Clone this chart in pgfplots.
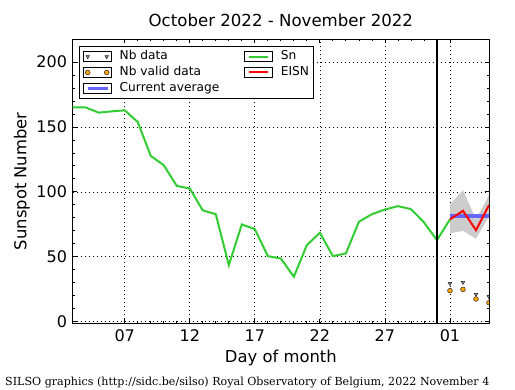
\documentclass[border=0pt]{standalone}
\usepackage{fontspec}
\setmainfont{DejaVu Sans}
\newfontfamily\footerfont{DejaVu Serif}
\usepackage{pgfplots}
\pgfplotsset{compat=1.18}

\definecolor{sngreen}{RGB}{50,205,50}
\definecolor{eisnred}{RGB}{255,0,0}
\definecolor{avgblue}{RGB}{102,102,255}
\definecolor{bandgray}{RGB}{204,204,204}
\definecolor{dotorange}{RGB}{255,165,0}
\definecolor{trigray}{RGB}{140,140,140}

\begin{document}
\begin{tikzpicture}
\path[use as bounding box] (0,0) rectangle (515bp,390bp);
\begin{axis}[
  at={(72.7bp,66.7bp)}, anchor=south west,
  scale only axis, width=416.3bp, height=284bp,
  xmin=3, xmax=35, ymin=-1.23, ymax=217.5,
  axis line style={line width=1bp, black},
  tick style={line width=0.8bp, black},
  tick align=inside,
  major tick length=4bp, minor tick length=2bp,
  xtick={7,12,17,22,27,32}, xticklabels={07,12,17,22,27,01},
  minor x tick num=4,
  ytick={0,50,100,150,200}, minor y tick num=4,
  grid=major,
  major grid style={black, line width=0.7bp, dash pattern=on 1bp off 3bp},
  /pgf/number format/assume math mode=true,
  tick label style={font=\fontsize{16bp}{19bp}\selectfont},
  yticklabel style={inner sep=0pt, xshift=-5.5bp},
  xticklabel style={inner sep=0pt, yshift=-6bp},
  title={October 2022 - November 2022},
  title style={at={(axis description cs:0.5,1.0257)}, anchor=base, inner sep=0pt, font=\fontsize{16.6bp}{20bp}\selectfont},
  xlabel={Day of month},
  xlabel style={at={(axis description cs:0.5,-0.1387)}, anchor=base, inner sep=0pt, font=\fontsize{16.4bp}{20bp}\selectfont},
  ylabel={Sunspot Number},
  ylabel style={at={(axis description cs:-0.111,0.5)}, anchor=base, inner sep=0pt, font=\fontsize{16.4bp}{20bp}\selectfont},
  clip marker paths=true,
  legend columns=2, legend cell align=left,
  legend style={at={(axis description cs:0,1)}, anchor=north west, xshift=6bp, yshift=-6.4bp,
    draw=black, line width=1bp, fill=white, inner xsep=4bp, inner ysep=4.5bp,
    font=\fontsize{12.2bp}{14bp}\selectfont,
    nodes={inner sep=0pt, text height=9bp, text depth=3bp},
    row sep=3.8bp,
    /tikz/every odd column/.append style={column sep=7.5bp},
    /tikz/every even column/.append style={column sep=25bp}},
]
% uncertainty band of EISN
\addplot[fill=bandgray, draw=none, forget plot] coordinates {
  (32,90.5) (33,101.3) (34,78.8) (35,97.5)
  (35,81) (34,64) (33,70) (32,68)} -- cycle;
% Sn
\addplot[sngreen, line width=2bp, forget plot] coordinates {
  (3,165) (4,165) (5,161) (6,162) (7,162.8) (8,153.8) (9,127.7) (10,120.5)
  (11,104.6) (12,102.6) (13,85.7) (14,82.8) (15,43.6) (16,74.9) (17,71.3)
  (18,50.5) (19,48.7) (20,34.6) (21,59) (22,68.5) (23,50.5) (24,52.6)
  (25,77) (26,82.8) (27,86.4) (28,89) (29,86.7) (30,76.5) (31,62.8) (32,78.8)};
% separator at end of month
\addplot[black, line width=1.2bp, forget plot] coordinates {(31,-10) (31,300)};
% current average
\addplot[avgblue, line width=3.5bp, forget plot] coordinates {(32,81.3) (35,81.3)};
% EISN
\addplot[eisnred, line width=2bp, forget plot] coordinates {
  (32,78.8) (33,85.4) (34,70.5) (35,89.8)};
% Nb data
\addplot[only marks, mark=triangle*, mark size=2.1bp,
  mark options={rotate=180, fill=trigray, draw=black!85, line width=0.5bp}, forget plot]
  coordinates {(32,29.5) (33,30.3) (34,21) (35,19.2)};
% Nb valid data
\addplot[only marks, mark=*, mark size=2.4bp,
  mark options={fill=dotorange, draw=black!85, line width=0.5bp}, forget plot]
  coordinates {(32,23.9) (33,24.9) (34,17.5) (35,14.6)};

\addlegendimage{legend image code/.code={\path (-4bp,-5bp) rectangle (24bp,5bp);
  \draw[draw=black!85, fill=trigray, line width=0.5bp, mark=triangle*, mark size=2.1bp, mark options={rotate=180}]
  plot[only marks] coordinates {(0bp,0bp) (19bp,0bp)};}}
\addlegendentry{Nb data}
\addlegendimage{legend image code/.code={\path (-4bp,-5bp) rectangle (24bp,5bp);
  \draw[sngreen, line width=2bp] (0bp,0bp) -- (19bp,0bp);}}
\addlegendentry{Sn}
\addlegendimage{legend image code/.code={\path (-4bp,-5bp) rectangle (24bp,5bp);
  \draw[draw=black!85, fill=dotorange, line width=0.5bp, mark=*, mark size=2.4bp]
  plot[only marks] coordinates {(0bp,0bp) (19bp,0bp)};}}
\addlegendentry{Nb valid data}
\addlegendimage{legend image code/.code={\path (-4bp,-5bp) rectangle (24bp,5bp);
  \draw[eisnred, line width=2bp] (0bp,0bp) -- (19bp,0bp);}}
\addlegendentry{EISN}
\addlegendimage{legend image code/.code={\path (-4bp,-5bp) rectangle (24bp,5bp);
  \draw[avgblue, line width=3.5bp] (0bp,0bp) -- (20bp,0bp);}}
\addlegendentry{Current average}
\end{axis}
\node[anchor=base west, inner sep=0pt, font=\footerfont\fontsize{11.1bp}{13bp}\selectfont]
  at (5bp,5bp) {SILSO graphics (http://sidc.be/silso) Royal Observatory of Belgium, 2022 November 4};
\end{tikzpicture}
\end{document}
